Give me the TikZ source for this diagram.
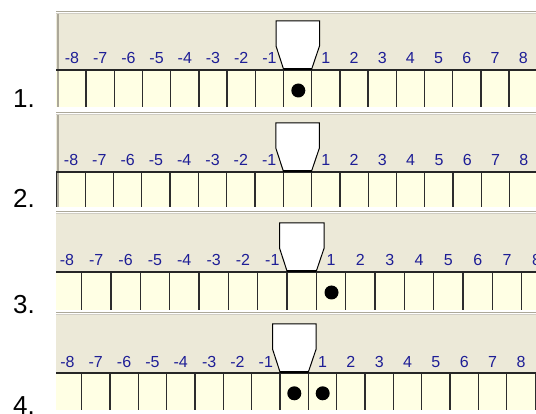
\documentclass[tikz,border=0pt]{standalone}
\usepackage{fontspec}
\setmainfont{Liberation Sans}
\definecolor{beige}{RGB}{236,233,216}
\definecolor{tapey}{RGB}{255,255,228}
\definecolor{numblue}{RGB}{30,30,150}
\definecolor{frameg}{RGB}{172,168,153}
\definecolor{frameg2}{RGB}{208,205,195}
\definecolor{celll}{RGB}{45,45,45}
\tikzset{
  numlbl/.style={text=numblue, font=\fontsize{16}{16}\selectfont, inner sep=0pt, anchor=base},
  steplbl/.style={font=\fontsize{26}{26}\selectfont, inner sep=0pt, anchor=base east},
  dot/.style={circle, fill=black, minimum size=14pt, inner sep=0pt},
  pointer/.style={fill=white, draw=black, line width=1pt, line join=miter},
  cellline/.style={draw=celll, line width=1.3pt},
  tapetopline/.style={draw=black!85, line width=1.6pt},
}
% #1 id, #2 left, #3 top, #4 tape top, #5 bottom, #6 left of cell 0, #7 cell width, #8 left frame line (1/0)
\newcommand\tapepanel[8]{%
  \fill[beige] (#2,#3) rectangle (536,#4);
  \fill[tapey] (#2,#4) rectangle (536,#5);
  \draw[frameg, line width=1pt] (#2,#3+0.5) -- (536,#3+0.5);
  \draw[white, line width=1pt] (#2,#3+1.5) -- (536,#3+1.5);
  \draw[frameg2, line width=1pt] (#2,#3+2.5) -- (536,#3+2.5);
  \begin{scope}
    \clip (#2,#3) rectangle (536,#5);
    \foreach \k in {-8,...,9} {\draw[cellline] ({#6+\k*#7},#4) -- ({#6+\k*#7},#5);}
    \foreach \k [count=\i] in {-8,...,8} {\node[numlbl] (#1n\i) at ({#6+(\k+0.5)*#7},#4-6) {\k};}
  \end{scope}
  \ifnum#8=1
    \draw[frameg, line width=1.4pt] (#2+2,#3+3) -- (#2+2,#5);
  \fi
  \draw[tapetopline] (#2,#4) -- (536,#4);
  \draw[pointer] ({#6-7.5},#4-49) -- ({#6+#7+7.8},#4-49) -- ({#6+#7+7.8},#4-24)
     -- ({#6+#7},#4-1) -- (#6,#4-1) -- ({#6-7.5},#4-24) -- cycle;
  \draw[black, line width=2pt] (#6,#4-1) -- ({#6+#7},#4-1);
}
\begin{document}
\begin{tikzpicture}[x=1pt,y=-1pt]
  \useasboundingbox (0,0) rectangle (536,414);
  \fill[white] (0,0) rectangle (536,414);
  \tapepanel{a}{56}{11.5}{70}{107}{283.5}{28.2}{1}
  \tapepanel{b}{56}{112.5}{172}{207}{283.3}{28.3}{1}
  \tapepanel{c}{56}{211.5}{272}{310}{287}{29.35}{0}
  \tapepanel{d}{56}{312}{373}{410}{280}{28.35}{0}
  \node[dot] (a1) at (298.3,90.5) {};
  \node[dot] (c1) at (331.5,292.5) {};
  \node[dot] (d1) at (294.3,393.3) {};
  \node[dot] (d2) at (322.7,393.3) {};
  \node[steplbl] (s1) at (35,108) {1.};
  \node[steplbl] (s2) at (35,208) {2.};
  \node[steplbl] (s3) at (35,314) {3.};
  \node[steplbl] (s4) at (35,414) {4.};
\end{tikzpicture}
\end{document}
